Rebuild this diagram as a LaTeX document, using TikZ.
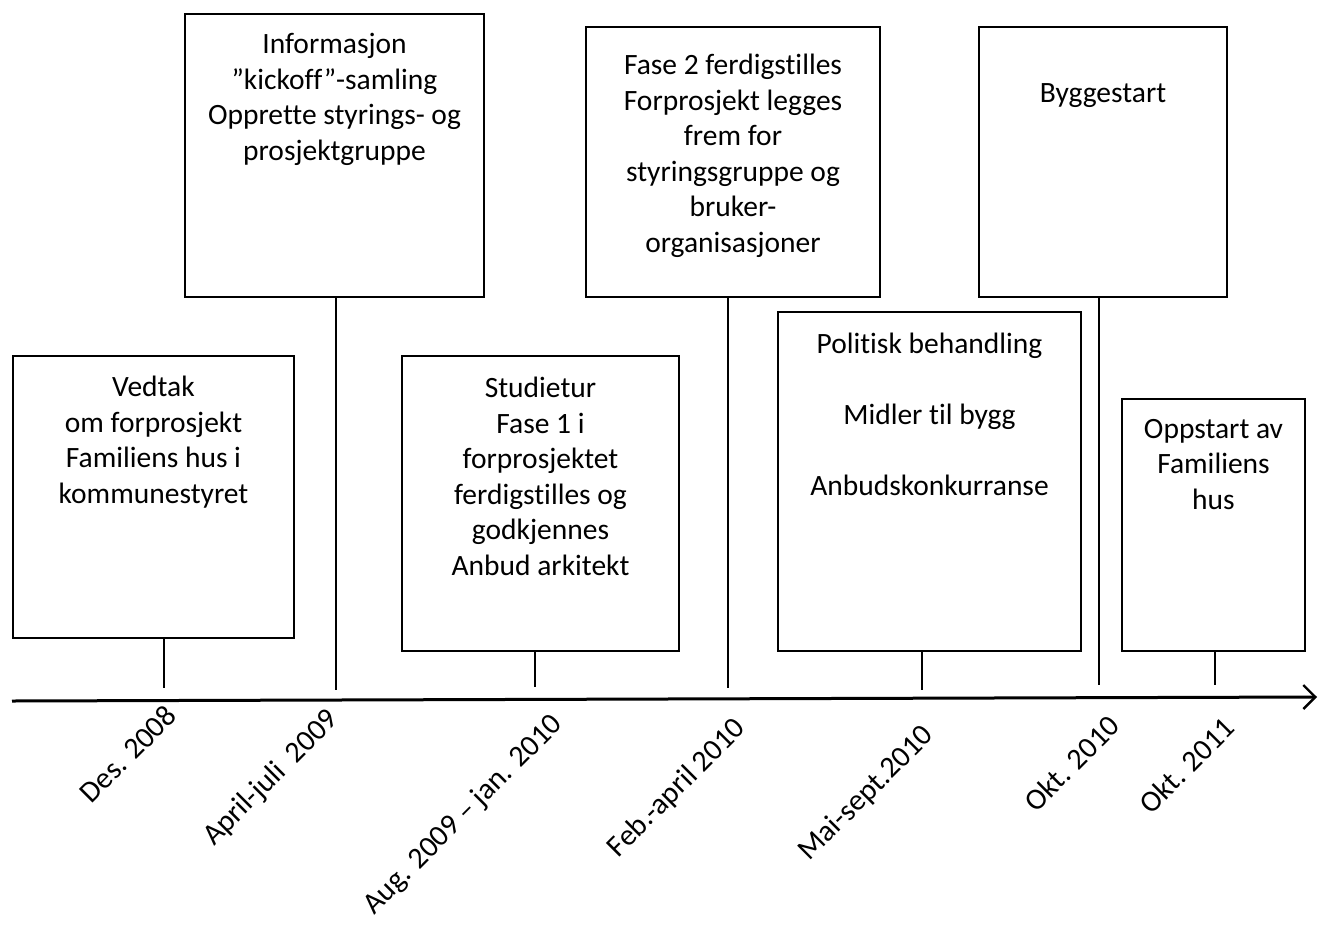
\documentclass[tikz,border=0pt]{standalone}
\usepackage{fontspec}
\setmainfont{Carlito}[Ligatures={NoCommon,NoContextual}]
\usetikzlibrary{arrows.meta}

\tikzset{
  evbox/.style={draw=black, line width=1.6pt, fill=white, inner sep=0pt, minimum width=#1},
  evtext/.style={anchor=base, align=center, inner sep=0pt, font=\fontsize{29.5}{35.5}\selectfont},
  datelabel/.style={anchor=north east, rotate=45, inner sep=0pt, font=\fontsize{30}{36}\selectfont},
  tickline/.style={draw=black, line width=1.6pt},
  axisline/.style={draw=black, line width=3pt, -{Straight Barb[length=12pt,width=24pt,line width=2.4pt]}}
}

\begin{document}
\begin{tikzpicture}[x=1pt, y=-1pt]
\useasboundingbox (0,0) rectangle (1319,929);

% event boxes
\node[evbox=281pt, minimum height=282pt] (bA) at (153.5,497) {};
\node[evbox=299pt, minimum height=283pt] (bB) at (334.5,155.5) {};
\node[evbox=277pt, minimum height=295pt] (bC) at (540.5,503.5) {};
\node[evbox=294pt, minimum height=270pt] (bD) at (733,162) {};
\node[evbox=303pt, minimum height=339pt] (bE) at (929.5,481.5) {};
\node[evbox=248pt, minimum height=270pt] (bF) at (1103,162) {};
\node[evbox=183pt, minimum height=252pt] (bG) at (1213.5,525) {};

% box texts (placed by the baseline of their last line)
\node[evtext] (tA) at (153.5,503) {Vedtak\\om forprosjekt\\Familiens hus i\\kommunestyret};
\node[evtext] (tB) at (334.5,160) {Informasjon\\”kickoff”-samling\\Opprette styrings- og\\prosjektgruppe};
\node[evtext] (tC) at (540.5,575) {Studietur\\Fase 1 i\\forprosjektet\\ferdigstilles og\\godkjennes\\Anbud arkitekt};
\node[evtext] (tD) at (733,252) {Fase 2 ferdigstilles\\Forprosjekt legges\\frem for\\styringsgruppe og\\bruker-\\organisasjoner};
\node[evtext] (tE) at (929.5,495) {Politisk behandling\\[35.5pt]Midler til bygg\\[35.5pt]Anbudskonkurranse};
\node[evtext] (tF) at (1103,102) {Byggestart};
\node[evtext] (tG) at (1213.5,509) {Oppstart av\\Familiens\\hus};

% time axis
\coordinate (axL) at (12,701);
\coordinate (axR) at (1317,697);
\draw[axisline] (axL) -- (axR);

% tick ends just above the axis
\coordinate (kA) at (164,688);
\coordinate (kB) at (336,690);
\coordinate (kC) at (535,687);
\coordinate (kD) at (728,688);
\coordinate (kE) at (922,690);
\coordinate (kF) at (1099,685);
\coordinate (kG) at (1215,685);

\draw[tickline] (kA |- bA.south) -- (kA);
\draw[tickline] (kB |- bB.south) -- (kB);
\draw[tickline] (kC |- bC.south) -- (kC);
\draw[tickline] (kD |- bD.south) -- (kD);
\draw[tickline] (kE |- bE.south) -- (kE);
\draw[tickline] (kF |- bF.south) -- (kF);
\draw[tickline] (kG |- bG.south) -- (kG);

% date labels
\node[datelabel] (dA) at (164,703) {Des. 2008};
\node[datelabel] (dB) at (325,706) {April-juli~ 2009};
\node[datelabel] (dC) at (549,711) {Aug. 2009 – jan. 2010};
\node[datelabel] (dD) at (732,715) {Feb.-april 2010};
\node[datelabel] (dE) at (920,722) {Mai-sept.2010};
\node[datelabel] (dF) at (1107,713) {Okt. 2010};
\node[datelabel] (dG) at (1222,715) {Okt. 2011};
\end{tikzpicture}
\end{document}
